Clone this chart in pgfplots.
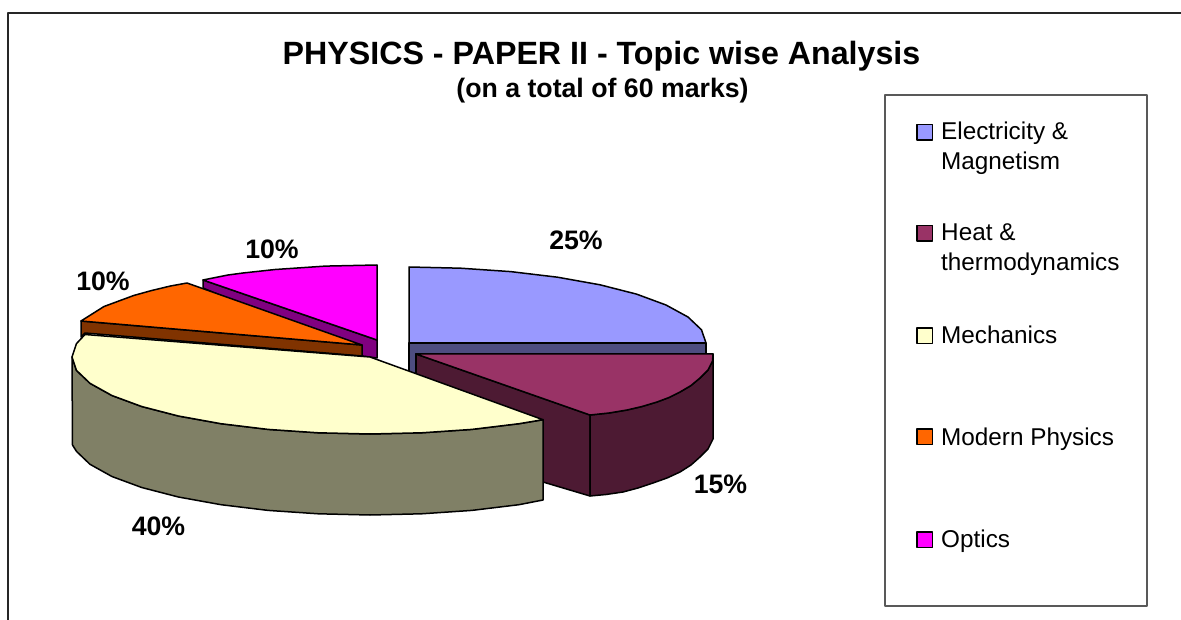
\documentclass[border=0pt]{standalone}
\usepackage{pgfplots}
\pgfplotsset{compat=1.18}
\usepackage{fontspec}
\setmainfont{Liberation Sans}
\definecolor{elec}{HTML}{9999FF}\definecolor{elecS}{HTML}{4D4D80}
\definecolor{heat}{HTML}{993366}\definecolor{heatS}{HTML}{4D1A33}
\definecolor{mech}{HTML}{FFFFCC}\definecolor{mechS}{HTML}{808066}
\definecolor{modr}{HTML}{FF6600}\definecolor{modrS}{HTML}{803300}
\definecolor{opti}{HTML}{FF00FF}\definecolor{optiS}{HTML}{800080}
\newcommand{\ttl}{\fontsize{32.2}{38}\selectfont\bfseries}
\newcommand{\sub}{\fontsize{26.7}{32}\selectfont\bfseries}
\newcommand{\pct}{\fontsize{26.7}{32}\selectfont\bfseries}
\newcommand{\leg}{\fontsize{24.3}{29}\selectfont}
\begin{document}
\begin{tikzpicture}
\path[use as bounding box] (0,0) rectangle (1181pt,620pt);
\begin{axis}[
  at={(0,0)},anchor=south west,
  scale only axis,width=1181pt,height=620pt,
  xmin=0,xmax=1181,ymin=0,ymax=620,y dir=reverse,
  hide axis,clip=true,
  every axis plot/.append style={line width=1.5pt,draw=black,line join=round},
]
% outer frame
\addplot[line width=1.5pt,draw=black!85] coordinates {(8,620)(8,13)(1181,13)};
% legend box
\addplot[line width=1.2pt,draw=black!65,fill=white] coordinates {(885,95)(1147,95)(1147,606)(885,606)} -- cycle;
% Electricity side, top
\addplot[fill=elecS] coordinates {(409,343)(706,343)(706,354)(416,354)(416,374)(409,374)} -- cycle;
\addplot[fill=elec] coordinates {(409,267)(460.6,268.2)(510.6,271.6)(557.5,277.2)(600,284.8)(636.5,294.1)(666,305)(688,317)(701.5,329.8)(706,343)(409,343)} -- cycle;
% Heat sides, top
\addplot[fill=heatS] coordinates {(416,354)(590,415)(590,496)(543,482)(416,430)} -- cycle;
\addplot[fill=heatS] coordinates {(590,415)(609,413)(627,410)(642,406.5)(657,402)(669,397.5)(680,392)(691,385.5)(700,378)(708,370)(712.5,361)(713,354)(713,439)(708,449)(700,457)(691,465)(680,472)(667,478)(653,483)(638,488)(623,492)(606,494.5)(590,496)} -- cycle;
\addplot[fill=heat] coordinates {(416,354)(713,354)(712.5,361)(708,370)(700,378)(691,385.5)(680,392)(669,397.5)(657,402)(642,406.5)(627,410)(609,413)(590,415)} -- cycle;
% Optics side, top
\addplot[fill=optiS] coordinates {(203,280)(377,340)(377,358)(362,356)(203,288)} -- cycle;
\addplot[fill=opti] coordinates {(203,280)(228,275)(243,273)(275.1,269.5)(325.3,266.1)(377,265)(377,340)} -- cycle;
% Modern side, top
\addplot[fill=modrS] coordinates {(81,321)(362,345)(362,356)(85,333)(81,337)} -- cycle;
\addplot[fill=modr] coordinates {(81,321)(104,306.5)(133.7,295.5)(151.3,290.6)(170.5,286)(187,283)(362,345)} -- cycle;
% Mechanics side, top
\addplot[fill=mechS] coordinates {(72,357)(76.5,370.4)(90,383.3)(111.9,395.5)(141.7,406.5)(178.4,416)(221,423.7)(268.1,429.4)(318.3,432.8)(370,434)(421.7,432.8)(471.9,429.4)(519,423.7)(543,419.7)(543,500)(519,504.7)(471.9,510.4)(421.7,513.8)(370,515)(318.3,513.8)(268.1,510.4)(221,504.7)(178.4,497)(141.7,487.5)(111.9,476.5)(90,464.3)(76.5,451.4)(72.5,445)} -- cycle;
\addplot[fill=mech] coordinates {(85,334.5)(370,357)(543,419.7)(519,423.7)(471.9,429.4)(421.7,432.8)(370,434)(318.3,432.8)(268.1,429.4)(221,423.7)(178.4,416)(141.7,406.5)(111.9,395.5)(90,383.3)(76.5,370.4)(72,357)(76.5,343.6)} -- cycle;
% legend swatches
\addplot[fill=elec,line width=1.2pt] coordinates {(917,124.5)(932.5,124.5)(932.5,140)(917,140)} -- cycle;
\addplot[fill=heat,line width=1.2pt] coordinates {(917,225.5)(932.5,225.5)(932.5,241)(917,241)} -- cycle;
\addplot[fill=mech,line width=1.2pt] coordinates {(917,328)(932.5,328)(932.5,343.5)(917,343.5)} -- cycle;
\addplot[fill=modr,line width=1.2pt] coordinates {(917,429)(932.5,429)(932.5,444.5)(917,444.5)} -- cycle;
\addplot[fill=opti,line width=1.2pt] coordinates {(917,532)(932.5,532)(932.5,547.5)(917,547.5)} -- cycle;
% texts
\node[anchor=base,inner sep=0pt] at (axis cs:601.5,65) {\ttl PHYSICS - PAPER II - Topic wise Analysis};
\node[anchor=base,inner sep=0pt] at (axis cs:602.5,98) {\sub (on a total of 60 marks)};
\node[anchor=base,inner sep=0pt] at (axis cs:576,250) {\pct 25\%};
\node[anchor=base,inner sep=0pt] at (axis cs:272,259) {\pct 10\%};
\node[anchor=base,inner sep=0pt] at (axis cs:103,291) {\pct 10\%};
\node[anchor=base,inner sep=0pt] at (axis cs:720.5,493) {\pct 15\%};
\node[anchor=base,inner sep=0pt] at (axis cs:158.5,535) {\pct 40\%};
\node[anchor=base west,inner sep=0pt] at (axis cs:941,140) {\leg Electricity \&};
\node[anchor=base west,inner sep=0pt] at (axis cs:941,170) {\leg Magnetism};
\node[anchor=base west,inner sep=0pt] at (axis cs:941,241) {\leg Heat \&};
\node[anchor=base west,inner sep=0pt] at (axis cs:941,271) {\leg thermodynamics};
\node[anchor=base west,inner sep=0pt] at (axis cs:941,344) {\leg Mechanics};
\node[anchor=base west,inner sep=0pt] at (axis cs:941,445) {\leg Modern Physics};
\node[anchor=base west,inner sep=0pt] at (axis cs:941,547) {\leg Optics};
\end{axis}
\end{tikzpicture}
\end{document}
